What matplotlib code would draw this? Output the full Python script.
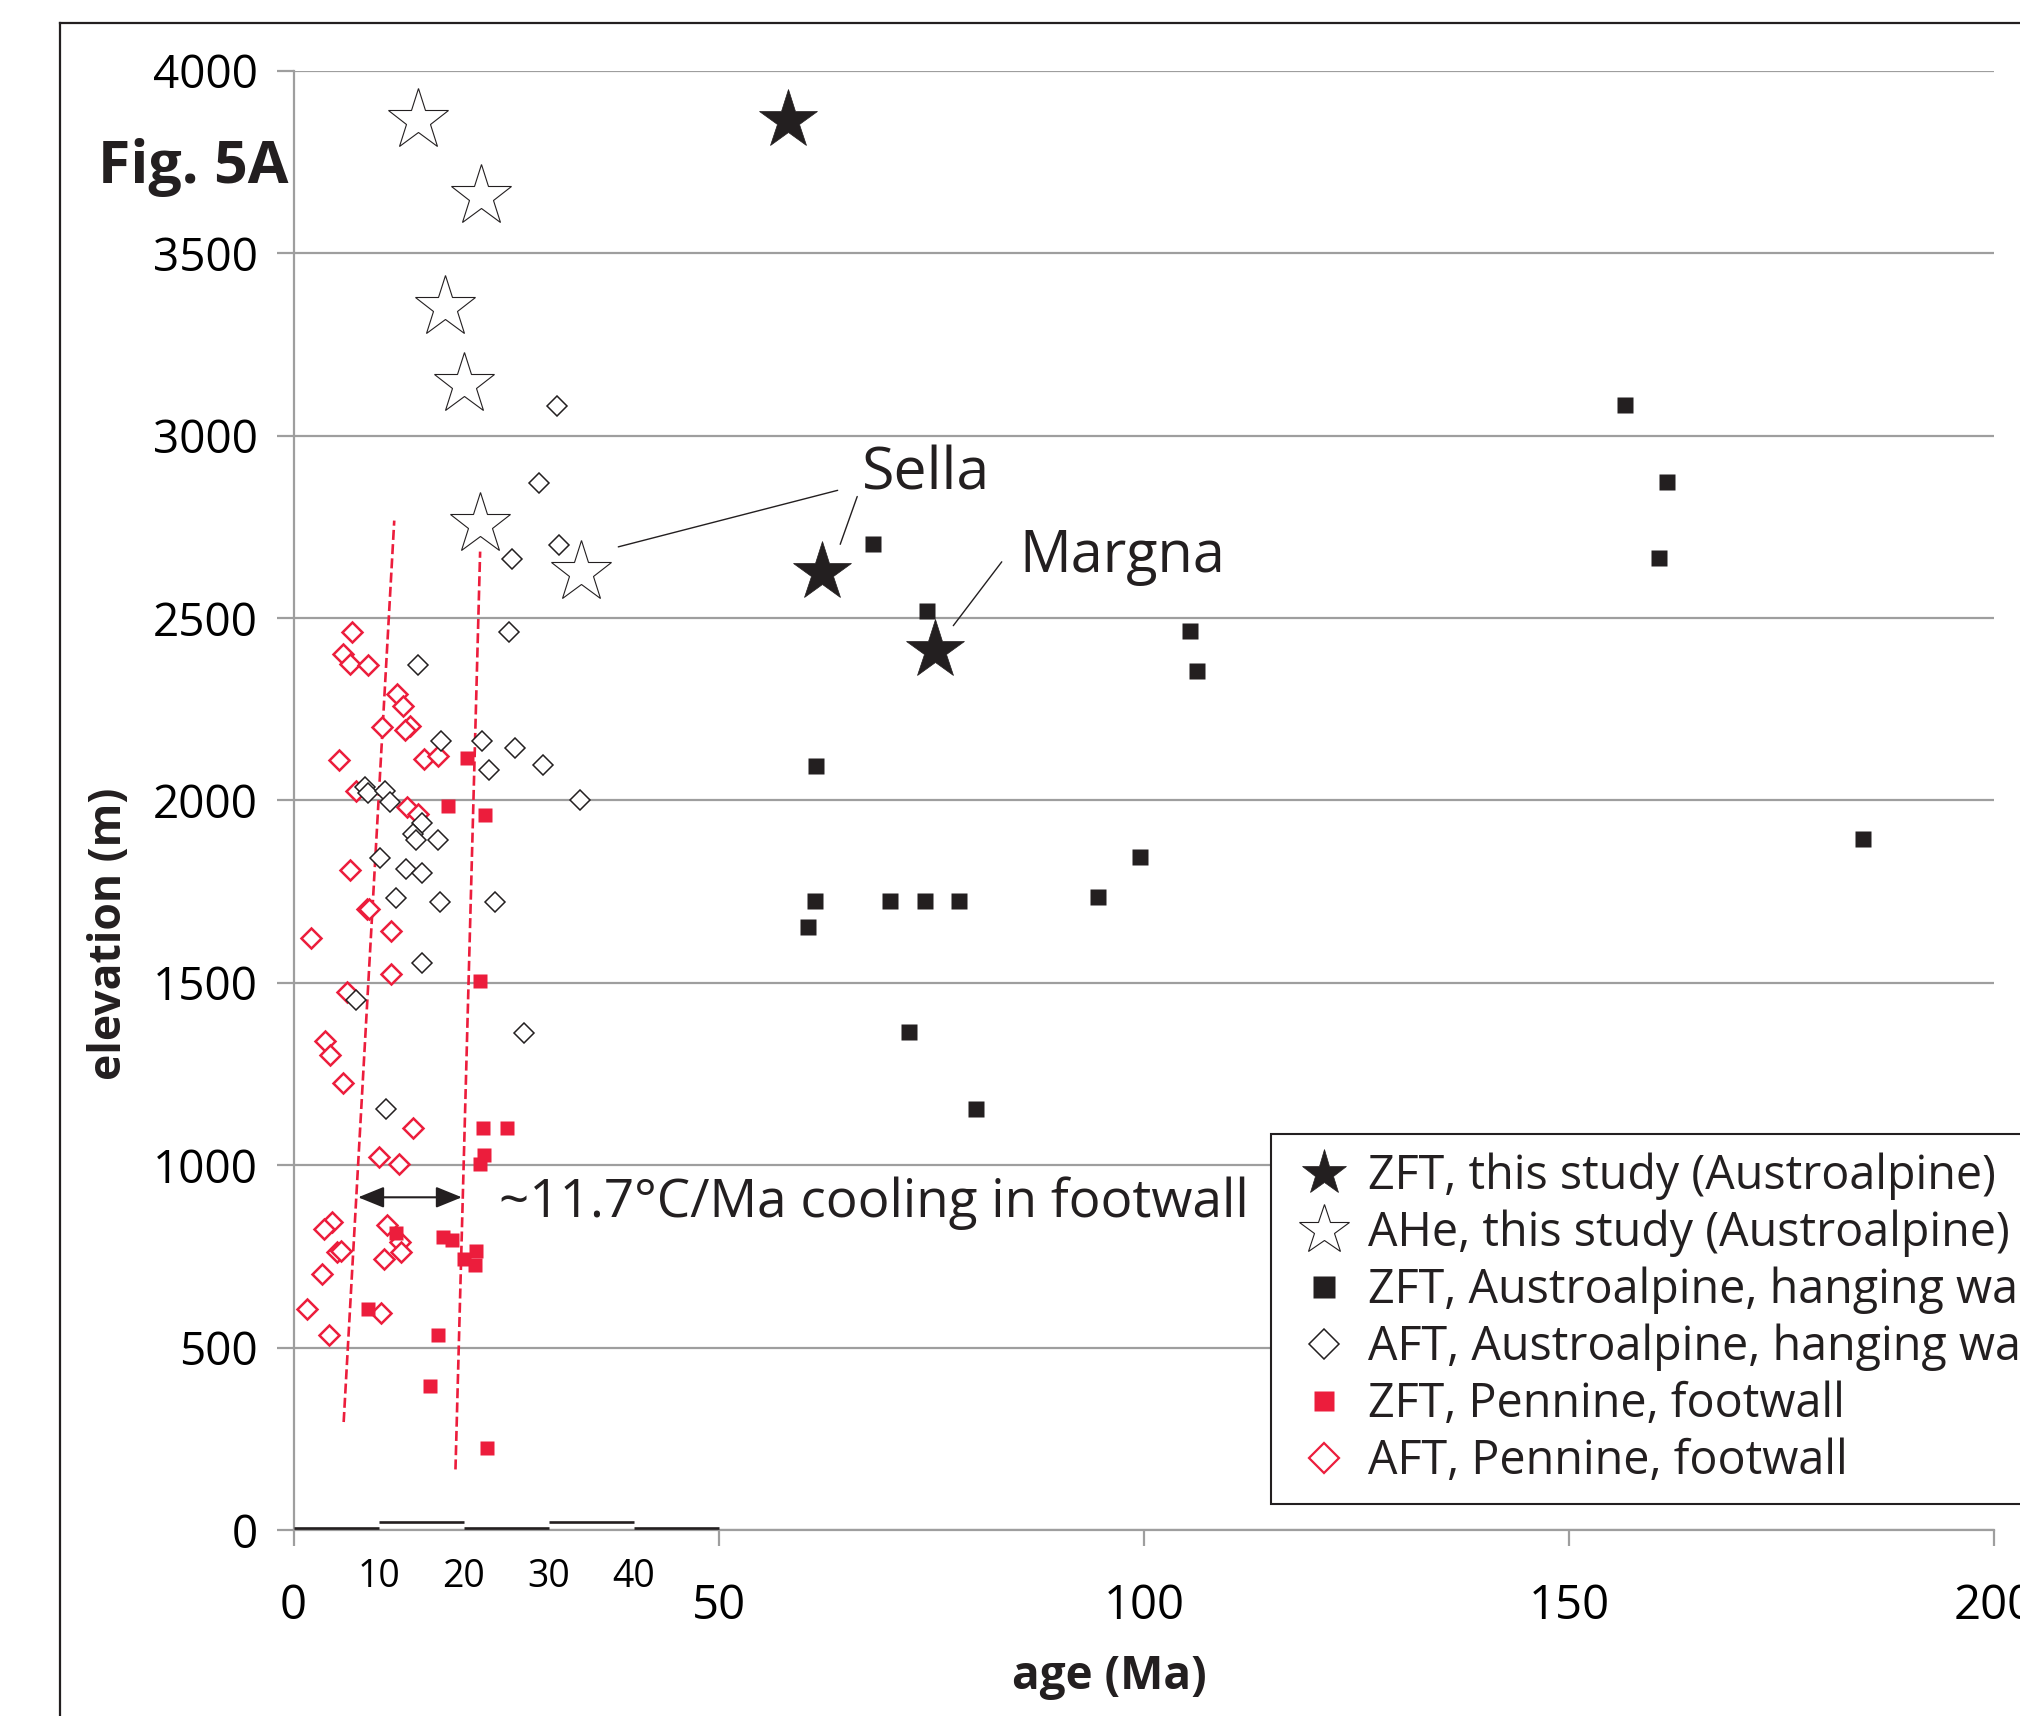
import numpy as np
import matplotlib
matplotlib.use('Agg')
import matplotlib.pyplot as plt
from matplotlib.lines import Line2D

########### data (age Ma / elevation m) ###########

# ZFT, this study (Austroalpine) - filled stars
zft_study_age = [58.2, 62.1, 75.4]
zft_study_elev = [3866, 2627, 2411]

# AHe, this study (Austroalpine) - open stars
ahe_study_age = [14.7, 22.1, 17.8, 20.1, 21.9, 33.8]
ahe_study_elev = [3866, 3656, 3353, 3142, 2759, 2626]

# ZFT, Austroalpine, hanging wall - black squares
zft_hw_age = [68.2, 74.5, 105.4, 106.3, 61.5, 61.3, 60.5, 70.2, 74.3,
              78.3, 99.6, 94.6, 72.4, 80.3, 156.6, 161.5, 160.6, 184.6]
zft_hw_elev = [2704, 2520, 2464, 2354, 2094, 1724, 1652, 1724, 1724,
               1724, 1845, 1735, 1365, 1155, 3083, 2874, 2665, 1894]

# AFT, Austroalpine, hanging wall - black open diamonds
aft_hw_age = [25.3, 14.7, 17.4, 22.2, 26.1, 29.4, 23.0, 8.4, 8.8, 10.8,
              11.4, 33.7, 15.15, 14.1, 14.4, 17.0, 10.2, 13.2, 15.1, 12.1,
              17.2, 23.7, 15.1, 7.4, 27.1, 10.9, 31.0, 28.9, 31.2, 25.7]
aft_hw_elev = [2461, 2372, 2162, 2162, 2143, 2098, 2082, 2037, 2020, 2027,
               1995, 2002, 1938, 1909, 1892, 1892, 1842, 1813, 1802, 1732,
               1721, 1721, 1553, 1452, 1362, 1153, 3081, 2871, 2701, 2662]

# ZFT, Pennine, footwall - red squares
zft_fw_age = [20.45, 18.2, 22.5, 21.9, 22.3, 25.1, 22.4, 21.9, 12.0,
              17.55, 18.6, 21.5, 20.0, 21.4, 8.8, 17.0, 16.1, 22.7]
zft_fw_elev = [2117, 1984, 1959, 1504, 1103, 1103, 1029, 1003, 815,
               804, 796, 764, 744, 726, 605, 534, 395, 225]

# AFT, Pennine, footwall - red open diamonds
aft_fw_age = [6.85, 5.86, 6.65, 8.8, 12.14, 12.9, 10.4, 13.7, 13.1, 5.3,
              15.3, 17.0, 7.4, 13.3, 14.7, 6.65, 8.6, 8.9, 2.1, 11.5,
              11.5, 6.26, 3.7, 4.3, 5.86, 14.0, 10.0, 12.4, 4.5, 3.6,
              11.0, 12.5, 5.1, 5.55, 12.7, 10.6, 3.4, 1.6, 10.3, 4.2]
aft_fw_elev = [2461, 2402, 2374, 2372, 2292, 2260, 2201, 2203, 2192, 2111,
               2114, 2121, 2027, 1982, 1963, 1808, 1703, 1703, 1623, 1641,
               1523, 1475, 1341, 1303, 1224, 1103, 1023, 1004, 845, 824,
               836, 790, 762, 764, 762, 742, 703, 605, 594, 534]

# hand drawn guide lines through the footwall data
guide1_age = [5.9, 11.85]
guide1_elev = [296, 2767]
guide2_age = [19.05, 21.95]
guide2_elev = [166, 2682]

legend_labels = ['ZFT, this study (Austroalpine)',
                 'AHe, this study (Austroalpine)',
                 'ZFT, Austroalpine, hanging wall',
                 'AFT, Austroalpine, hanging wall',
                 'ZFT, Pennine, footwall',
                 'AFT, Pennine, footwall']

x_major = [0, 50, 100, 150, 200]
x_minor = [10, 20, 30, 40]
scale_bar = [0, 10, 20, 30, 40, 50]
y_ticks = np.arange(0, 4001, 500)

###################################

RED = '#EC1D3C'
BLACK = '#231F20'
GRID = '#9E9E9E'

plt.rcParams['font.family'] = ['Open Sans', 'DejaVu Sans']
plt.rcParams['text.color'] = BLACK

W, H = 2020, 1716
fig = plt.figure(figsize=(W / 100, H / 100), dpi=100)
ax = fig.add_axes([293.5 / W, 1 - 1530 / H, (1994 - 293.5) / W, (1530 - 70.8) / H])

ax.set_xlim(0, 200)
ax.set_ylim(0, 4000)
ax.set_axisbelow(True)

for s in ['top', 'right']:
    ax.spines[s].set_visible(False)
for s in ['left', 'bottom']:
    ax.spines[s].set_color(GRID)
    ax.spines[s].set_linewidth(1.6)

ax.set_yticks(y_ticks)
ax.yaxis.grid(True, color=GRID, lw=1.6)
ax.set_xticks(x_major)
ax.set_xticks(x_minor, labels=[str(v) for v in x_minor], minor=True)
ax.tick_params(axis='y', length=11.9, width=1.6, color=GRID, pad=14, labelsize=33)
ax.tick_params(axis='x', which='major', length=11.5, width=1.6, color=GRID, pad=26, labelsize=34)
ax.tick_params(axis='x', which='minor', length=0, pad=20, labelsize=27)

# alternating scale bar on the axis for the 0-50 Ma part
for i in range(len(scale_bar) - 1):
    yy = 5 if i % 2 == 0 else 22
    ax.plot(scale_bar[i:i + 2], [yy, yy], color=BLACK, lw=1.9, clip_on=False,
            solid_capstyle='butt', zorder=3)

# guide lines
for ga, ge in [(guide1_age, guide1_elev), (guide2_age, guide2_elev)]:
    ax.plot(ga, ge, color=RED, lw=1.9, ls=(0, (3.8, 1.6)), zorder=2)

ax.plot(aft_fw_age, aft_fw_elev, ls='none', marker='D', ms=10.5, mfc='white',
        mec=RED, mew=1.8, zorder=4)
ax.plot(aft_hw_age, aft_hw_elev, ls='none', marker='D', ms=10.3, mfc='white',
        mec=BLACK, mew=1.1, zorder=4)
ax.plot(zft_fw_age, zft_fw_elev, ls='none', marker='s', ms=10.3, mfc=RED,
        mec='none', zorder=5)
ax.plot(zft_hw_age, zft_hw_elev, ls='none', marker='s', ms=11.5, mfc=BLACK,
        mec='none', zorder=5)
ax.plot(ahe_study_age, ahe_study_elev, ls='none', marker='*', ms=46, mfc='white',
        mec=BLACK, mew=0.8, zorder=6)
ax.plot(zft_study_age, zft_study_elev, ls='none', marker='*', ms=44, mfc=BLACK,
        mec=BLACK, mew=0.5, zorder=6)

# annotations
ax.text(66.8, 2851, 'Sella', fontsize=42.5, ha='left', va='baseline')
ax.text(85.4, 2627, 'Margna', fontsize=41.5, ha='left', va='baseline')
lead = dict(arrowstyle='-', color=BLACK, lw=1.0, shrinkA=0, shrinkB=0)
ax.annotate('', xy=(38.2, 2695), xytext=(64.0, 2850), arrowprops=lead)
ax.annotate('', xy=(64.3, 2702), xytext=(66.3, 2833), arrowprops=lead)
ax.annotate('', xy=(77.6, 2479), xytext=(83.3, 2654), arrowprops=lead)

ax.annotate('', xy=(7.6, 912), xytext=(19.8, 912),
            arrowprops=dict(arrowstyle='<|-|>,head_length=1.6,head_width=0.65',
                            color=BLACK, lw=1.5, shrinkA=0, shrinkB=0))
ax.text(24.2, 858, '~11.7\u00b0C/Ma cooling in footwall', fontsize=38.2,
        ha='left', va='baseline')

# legend
handles = [
    Line2D([], [], ls='none', marker='*', ms=34, mfc=BLACK, mec=BLACK, mew=0.5),
    Line2D([], [], ls='none', marker='*', ms=38, mfc='white', mec=BLACK, mew=0.8),
    Line2D([], [], ls='none', marker='s', ms=16, mfc=BLACK, mec='none'),
    Line2D([], [], ls='none', marker='D', ms=15.5, mfc='white', mec=BLACK, mew=1.1),
    Line2D([], [], ls='none', marker='s', ms=14.5, mfc=RED, mec='none'),
    Line2D([], [], ls='none', marker='D', ms=15.5, mfc='white', mec=RED, mew=1.6),
]
leg = ax.legend(handles, legend_labels, loc='upper left',
                bbox_to_anchor=(1271 / W, 1 - 1134 / H), bbox_transform=fig.transFigure,
                borderaxespad=0, borderpad=0.4, handlelength=1.45, handletextpad=0.22,
                labelspacing=0.205, fontsize=33.6, frameon=True, fancybox=False,
                edgecolor=BLACK, framealpha=1)
leg.get_frame().set_linewidth(1.5)
leg.set_zorder(10)

# labels
fig.text(98 / W, 1 - 183.3 / H, 'Fig. 5A', fontsize=42.5, fontweight='bold',
         ha='left', va='baseline')
fig.text(109.5 / W, 1 - 934 / H, 'elevation (m)', fontsize=32, fontweight='bold',
         rotation=90, ha='center', va='center')
fig.text(1109 / W, 1 - 1676 / H, 'age (Ma)', fontsize=33, fontweight='bold',
         ha='center', va='center')

# outer frame (cropped)
fig.add_artist(Line2D([60 / W, 60 / W], [0, 1 - 23 / H], transform=fig.transFigure,
                      color=BLACK, lw=1.6, solid_capstyle='projecting'))
fig.add_artist(Line2D([60 / W, 1], [1 - 23 / H, 1 - 23 / H], transform=fig.transFigure,
                      color=BLACK, lw=1.6, solid_capstyle='projecting'))

fig.savefig('out.png', dpi=100)
